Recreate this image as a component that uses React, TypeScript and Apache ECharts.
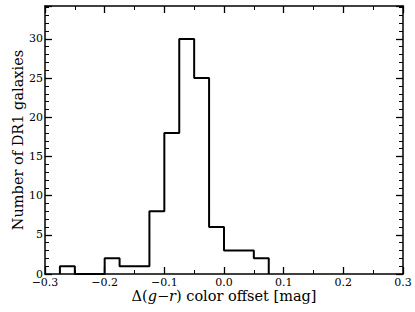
import React, { useEffect, useRef } from "react";
import * as echarts from "echarts";

const binStart = -0.275;
const binWidth = 0.025;
const counts = [1, 0, 0, 2, 1, 1, 8, 18, 30, 25, 6, 3, 3, 2];
const xTicks = [-0.3, -0.2, -0.1, 0.0, 0.1, 0.2, 0.3];
const yTicks = [0, 5, 10, 15, 20, 25, 30];
const yMax = 34.2;

const FONT = "DejaVu Serif";

export default function App() {
  const ref = useRef<HTMLDivElement>(null);
  useEffect(() => {
    if (!ref.current) return;
    const chart = echarts.init(ref.current, undefined, { renderer: "svg" });
    const pts: [number, number][] = [];
    pts.push([+binStart.toFixed(4), 0]);
    counts.forEach((c, i) => {
      const a = +(binStart + i * binWidth).toFixed(4);
      const b = +(binStart + (i + 1) * binWidth).toFixed(4);
      pts.push([a, c]);
      pts.push([b, c]);
    });
    pts.push([+(binStart + counts.length * binWidth).toFixed(4), 0]);

    const axisLine = { show: true, onZero: false, lineStyle: { color: "#000", width: 1.5 } };
    const xCommon = {
      type: "value" as const,
      min: xTicks[0],
      max: xTicks[xTicks.length - 1],
      interval: 0.1,
      axisLine,
      axisTick: { show: true, inside: true, length: 7, lineStyle: { color: "#000", width: 1.3 } },
      minorTick: { show: true, splitNumber: 2, length: 4, lineStyle: { color: "#000", width: 1 } },
      splitLine: { show: false },
    };
    const yCommon = {
      type: "value" as const,
      min: yTicks[0],
      max: yMax,
      interval: 5,
      axisLine,
      axisTick: { show: true, inside: true, length: 7, lineStyle: { color: "#000", width: 1.3 } },
      minorTick: { show: true, splitNumber: 5, length: 4, lineStyle: { color: "#000", width: 1 } },
      splitLine: { show: false },
    };

    chart.setOption({
      animation: false,
      grid: {
        left: 45,
        top: 6,
        width: 358,
        height: 268,
        containLabel: false,
        outerBoundsMode: "none",
      },
      xAxis: [
        {
          ...xCommon,
          position: "bottom",
          axisLabel: {
            show: true,
            color: "#000",
            fontFamily: FONT,
            fontSize: 11,
            lineHeight: 11,
            margin: 3,
            formatter: (v: number) => {
              const s = Math.abs(v).toFixed(1);
              return v < -1e-9 ? "\u2212" + s : s;
            },
          },
          name: "{n|Δ(}{i|g}{n|−}{i|r}{n|) color offset [mag]}",
          nameLocation: "middle",
          nameGap: 15,
          nameMoveOverlap: false,
          nameTextStyle: {
            rich: {
              n: { fontFamily: FONT, fontSize: 14.5, lineHeight: 14, color: "#000" },
              i: { fontFamily: FONT, fontSize: 14.5, lineHeight: 14, fontStyle: "italic", color: "#000" },
            },
          },
        },
        { ...xCommon, position: "top", axisLabel: { show: false } },
      ],
      yAxis: [
        {
          ...yCommon,
          position: "left",
          axisLabel: {
            show: true,
            color: "#000",
            fontFamily: FONT,
            fontSize: 11,
            lineHeight: 6,
            margin: 2,
            showMaxLabel: false,
          },
          name: "Number of DR1 galaxies",
          nameLocation: "middle",
          nameGap: 20,
          nameMoveOverlap: false,
          nameTextStyle: { fontFamily: FONT, fontSize: 14.5, color: "#000" },
        },
        { ...yCommon, position: "right", axisLabel: { show: false } },
      ],
      series: [
        {
          type: "line",
          data: pts,
          showSymbol: false,
          symbol: "none",
          lineStyle: { color: "#000", width: 2 },
          xAxisIndex: 0,
          yAxisIndex: 0,
        },
      ],
    });
    return () => chart.dispose();
  }, []);
  return (
    <div
      ref={ref}
      style={{ position: "absolute", left: 0, top: 0, width: 415, height: 312 }}
    />
  );
}
